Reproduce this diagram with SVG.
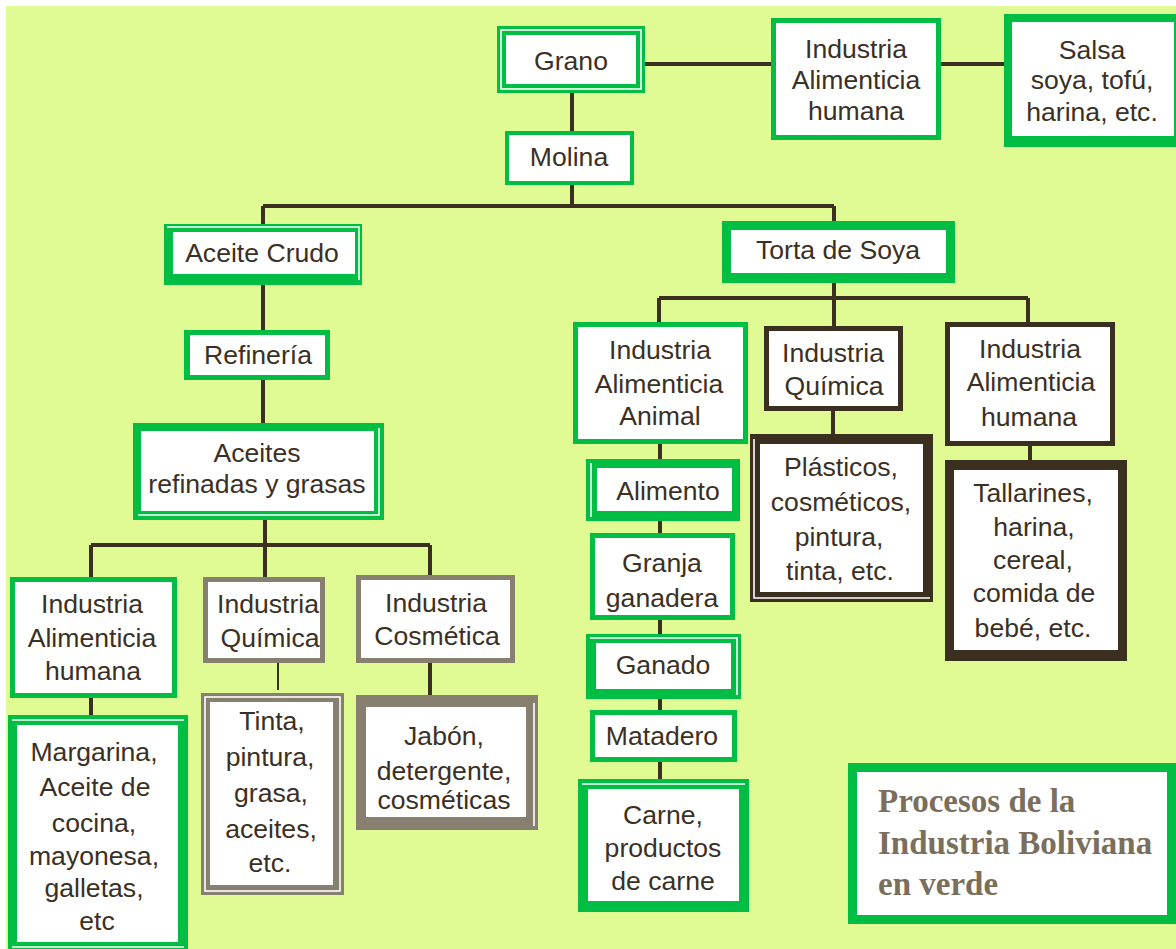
<svg xmlns="http://www.w3.org/2000/svg" width="1176" height="949" viewBox="0 0 1176 949">
<style>
.bg{fill:#e0fa94}
.g{fill:#00be44}
.gr{fill:#877f6f}
.br{fill:#3b2f20}
.in{fill:#ffffff}
.wl{fill:none;stroke:#ffffff;stroke-width:1.6}
.t{font-family:"Liberation Sans",Arial,sans-serif;font-size:26.6px;fill:#3b3024;text-anchor:middle}
.lg{font-family:"Liberation Serif","Times New Roman",serif;font-size:33px;font-weight:bold;fill:#7a6e5c}
.c{fill:none;stroke:#3b2f20;stroke-width:4}
</style>
<rect x="6" y="6" width="1170" height="943" class="bg"/>
<g id="connectors">
<path class="c" d="M645 64H771M941 64H1004"/>
<path class="c" d="M572 93V131M572 185V206M263 206H834M263 206V226M834 206V222"/>
<path class="c" d="M263 285V330M263 380V425M265 520V545M91 545H430M91 545V577M265 545V577M430 545V577"/>
<path class="c" d="M91 698V717M430 663V697"/>
<path d="M278 663V690" fill="none" stroke="#000" stroke-width="1.6"/>
<path class="c" d="M834 283V298M659 298H1028M659 298V323M834 298V327M1028 298V323"/>
<path class="c" d="M660 444V460M660 521V533M660 620V635M660 699V710M660 762V781"/>
<path class="c" d="M833 411V436M1030 446V462"/>
</g>
<g id="grano">
<rect x="497" y="26" width="148" height="67" class="g"/>
<rect x="501" y="30" width="140" height="59" class="wl"/>
<rect x="506" y="35" width="130" height="49" class="in"/>
<text x="571" y="70" class="t">Grano</text>
</g>
<g id="ind-alim-humana-top">
<rect x="771" y="18" width="170" height="122" class="g"/>
<rect x="776" y="23" width="160" height="112" class="in"/>
<text x="856" y="58" class="t">Industria</text>
<text x="856" y="89" class="t">Alimenticia</text>
<text x="856" y="120" class="t">humana</text>
</g>
<g id="salsa">
<rect x="1004" y="14" width="176" height="133" class="g"/>
<rect x="1012" y="22" width="162" height="114" class="in"/>
<text x="1092" y="59" class="t">Salsa</text>
<text x="1092" y="89" class="t">soya, tofú,</text>
<text x="1092" y="121" class="t">harina, etc.</text>
</g>
<g id="molina">
<rect x="505" y="131" width="129" height="54" class="g"/>
<rect x="509" y="135" width="121" height="46" class="in"/>
<text x="569" y="166" class="t">Molina</text>
</g>
<g id="aceite-crudo">
<rect x="164" y="224" width="198" height="61" class="g"/>
<path d="M167 227H359V280" class="wl"/>
<rect x="173" y="232" width="182" height="42" class="in"/>
<text x="262" y="262" class="t">Aceite Crudo</text>
</g>
<g id="torta-soya">
<rect x="722" y="221" width="233" height="62" class="g"/>
<rect x="731" y="230" width="215" height="43" class="in"/>
<text x="838" y="259" class="t">Torta de Soya</text>
</g>
<g id="refineria">
<rect x="184" y="330" width="146" height="50" class="g"/>
<rect x="190" y="335" width="135" height="40" class="in"/>
<text x="258" y="364" class="t">Refinería</text>
</g>
<g id="aceites-refinadas">
<rect x="133" y="423" width="251" height="97" class="g"/>
<path d="M379 428V515H138" class="wl"/>
<rect x="141" y="431" width="233" height="80" class="in"/>
<text x="257" y="462" class="t">Aceites</text>
<text x="257" y="493" class="t">refinadas y grasas</text>
</g>
<g id="ind-alim-humana-left">
<rect x="10" y="577" width="167" height="121" class="g"/>
<rect x="15" y="582" width="157" height="111" class="in"/>
<text x="92" y="613" class="t">Industria</text>
<text x="92" y="647" class="t">Alimenticia</text>
<text x="93" y="680" class="t">humana</text>
</g>
<g id="ind-quimica-left">
<rect x="203" y="577" width="122" height="86" class="gr"/>
<rect x="208" y="582" width="112" height="76" class="in"/>
<text x="268" y="613" class="t">Industria</text>
<text x="270" y="647" class="t">Química</text>
</g>
<g id="ind-cosmetica">
<rect x="356" y="575" width="159" height="88" class="gr"/>
<rect x="361" y="580" width="149" height="78" class="in"/>
<text x="436" y="612" class="t">Industria</text>
<text x="437" y="645" class="t">Cosmética</text>
</g>
<g id="margarina">
<rect x="8" y="715" width="180" height="240" class="g"/>
<path d="M12 720H184" class="wl"/>
<rect x="17" y="725" width="161" height="217" class="in"/>
<path d="M12 947H184" class="wl"/>
<text x="94" y="761" class="t">Margarina,</text>
<text x="95" y="796" class="t">Aceite de</text>
<text x="94" y="832" class="t">cocina,</text>
<text x="94" y="865" class="t">mayonesa,</text>
<text x="94" y="897" class="t">galletas,</text>
<text x="97" y="930" class="t">etc</text>
</g>
<g id="tinta">
<rect x="201" y="693" width="143" height="202" class="gr"/>
<rect x="205" y="697" width="135" height="194" class="wl"/>
<rect x="210" y="702" width="123" height="183" class="in"/>
<text x="272" y="730" class="t">Tinta,</text>
<text x="270" y="766" class="t">pintura,</text>
<text x="271" y="802" class="t">grasa,</text>
<text x="271" y="838" class="t">aceites,</text>
<text x="270" y="872" class="t">etc.</text>
</g>
<g id="jabon">
<rect x="356" y="695" width="182" height="135" class="gr"/>
<path d="M534 703V826" class="wl"/>
<rect x="366" y="707" width="160" height="110" class="in"/>
<text x="444" y="745" class="t">Jabón,</text>
<text x="444" y="780" class="t">detergente,</text>
<text x="444" y="809" class="t">cosméticas</text>
</g>
<g id="ind-alim-animal">
<rect x="573" y="322" width="175" height="122" class="g"/>
<rect x="578" y="327" width="165" height="112" class="in"/>
<text x="660" y="359" class="t">Industria</text>
<text x="659" y="393" class="t">Alimenticia</text>
<text x="660" y="425" class="t">Animal</text>
</g>
<g id="alimento">
<rect x="586" y="459" width="154" height="62" class="g"/>
<path d="M591 463V517" class="wl"/>
<rect x="597" y="468" width="135" height="43" class="in"/>
<text x="668" y="500" class="t">Alimento</text>
</g>
<g id="granja">
<rect x="590" y="533" width="145" height="87" class="g"/>
<rect x="595" y="538" width="135" height="77" class="in"/>
<text x="662" y="572" class="t">Granja</text>
<text x="662" y="607" class="t">ganadera</text>
</g>
<g id="ganado">
<rect x="586" y="634" width="155" height="65" class="g"/>
<path d="M590 638H737V695" class="wl"/>
<rect x="596" y="643" width="135" height="46" class="in"/>
<text x="663" y="674" class="t">Ganado</text>
</g>
<g id="matadero">
<rect x="590" y="710" width="147" height="52" class="g"/>
<rect x="595" y="715" width="137" height="42" class="in"/>
<text x="662" y="745" class="t">Matadero</text>
</g>
<g id="carne">
<rect x="578" y="779" width="171" height="133" class="g"/>
<path d="M582 784H745" class="wl"/>
<rect x="588" y="789" width="151" height="112" class="in"/>
<text x="663" y="824" class="t">Carne,</text>
<text x="663" y="857" class="t">productos</text>
<text x="663" y="890" class="t">de carne</text>
</g>
<g id="ind-quimica-right">
<rect x="764" y="326" width="139" height="85" class="br"/>
<rect x="769" y="331" width="129" height="75" class="in"/>
<text x="833" y="362" class="t">Industria</text>
<text x="834" y="395" class="t">Química</text>
</g>
<g id="ind-alim-humana-right">
<rect x="945" y="322" width="170" height="124" class="br"/>
<rect x="950" y="327" width="160" height="114" class="in"/>
<text x="1030" y="358" class="t">Industria</text>
<text x="1031" y="391" class="t">Alimenticia</text>
<text x="1029" y="426" class="t">humana</text>
</g>
<g id="plasticos">
<rect x="750" y="434" width="183" height="168" class="br"/>
<path d="M754 439V598H930" class="wl"/>
<rect x="760" y="444" width="163" height="148" class="in"/>
<text x="841" y="476" class="t">Plásticos,</text>
<text x="841" y="511" class="t">cosméticos,</text>
<text x="839" y="546" class="t">pintura,</text>
<text x="840" y="580" class="t">tinta, etc.</text>
</g>
<g id="tallarines">
<rect x="945" y="460" width="182" height="201" class="br"/>
<rect x="954" y="470" width="164" height="180" class="in"/>
<text x="1033" y="502" class="t">Tallarines,</text>
<text x="1034" y="536" class="t">harina,</text>
<text x="1033" y="569" class="t">cereal,</text>
<text x="1034" y="602" class="t">comida de</text>
<text x="1033" y="637" class="t">bebé, etc.</text>
</g>
<g id="legend">
<rect x="848" y="763" width="332" height="161" class="g"/>
<rect x="857" y="772" width="310" height="143" class="in"/>
<text x="878" y="812" class="lg">Procesos de la</text>
<text x="878" y="854" class="lg">Industria Boliviana</text>
<text x="878" y="895" class="lg">en verde</text>
</g>
</svg>
